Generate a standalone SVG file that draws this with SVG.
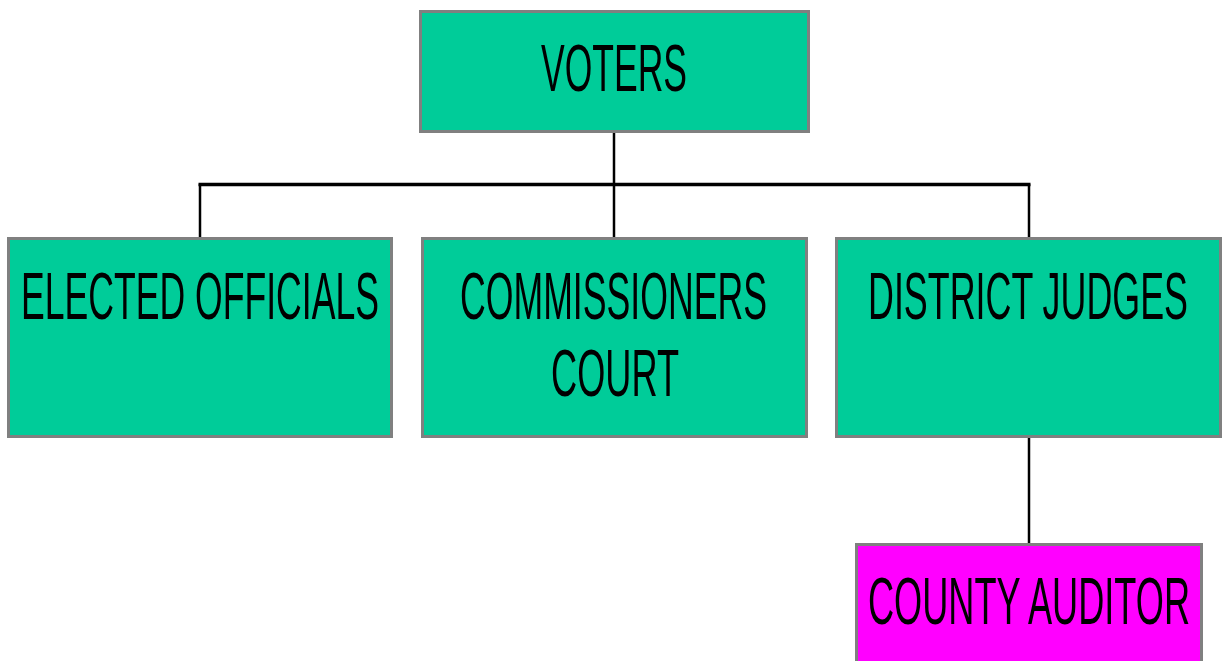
<svg xmlns="http://www.w3.org/2000/svg" width="1223" height="661" viewBox="0 0 1223 661">
<style>
.box{stroke:#808080;stroke-width:3}
.g{fill:#00CC99}
.m{fill:#FF00FF}
.t{font-family:"Liberation Sans",Arial,sans-serif;font-size:66px;fill:#000;text-anchor:middle}
.c{stroke:#000;fill:none}
</style>
<rect width="1223" height="661" fill="#fff"/>
<g id="connectors">
<line class="c" x1="614" y1="132" x2="614" y2="237" stroke-width="2.5"/>
<line class="c" x1="198.5" y1="184.5" x2="1030.5" y2="184.5" stroke-width="3.5"/>
<line class="c" x1="200" y1="184" x2="200" y2="237" stroke-width="2.5"/>
<line class="c" x1="1029" y1="184" x2="1029" y2="237" stroke-width="2.5"/>
<line class="c" x1="1029" y1="437" x2="1029" y2="543" stroke-width="2.5"/>
</g>
<g id="voters">
<rect class="box g" x="420.5" y="11.5" width="388" height="120"/>
<text class="t" x="614" y="91" textLength="146" lengthAdjust="spacingAndGlyphs">VOTERS</text>
</g>
<g id="elected">
<rect class="box g" x="8.5" y="238.5" width="383" height="198"/>
<text class="t" x="200" y="319" textLength="358" lengthAdjust="spacingAndGlyphs">ELECTED OFFICIALS</text>
</g>
<g id="commissioners">
<rect class="box g" x="422.5" y="238.5" width="384" height="198"/>
<text class="t" x="613.5" y="319" textLength="307" lengthAdjust="spacingAndGlyphs">COMMISSIONERS</text>
<text class="t" x="615" y="396" textLength="128" lengthAdjust="spacingAndGlyphs">COURT</text>
</g>
<g id="district">
<rect class="box g" x="836.5" y="238.5" width="384" height="198"/>
<text class="t" x="1028" y="319" textLength="320" lengthAdjust="spacingAndGlyphs">DISTRICT JUDGES</text>
</g>
<g id="auditor">
<rect class="box m" x="856.5" y="544.5" width="345" height="130"/>
<text class="t" x="1029" y="624" textLength="322" lengthAdjust="spacingAndGlyphs">COUNTY AUDITOR</text>
</g>
</svg>
